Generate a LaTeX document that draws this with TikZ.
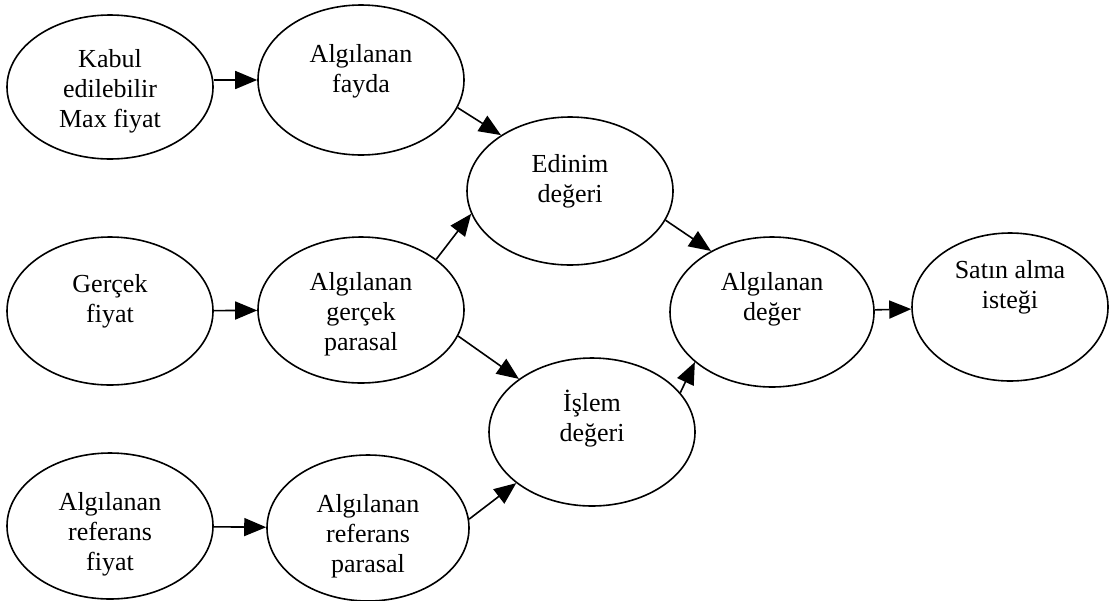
\documentclass[tikz,border=0pt]{standalone}
\usepackage{fontspec}
\setmainfont{Liberation Serif}
\usetikzlibrary{shapes.geometric,arrows.meta,positioning}
\tikzset{
  oval/.style={draw,ellipse,line width=0.8pt,minimum width=103pt,minimum height=74pt,inner sep=0pt},
  txt/.style={align=center,inner sep=0pt,font=\fontsize{13}{15}\selectfont},
  link/.style={draw,line width=0.8pt,-{Triangle[length=11pt,width=9pt]}}
}

\begin{document}
\begin{tikzpicture}[x=0.5pt,y=-0.5pt]
  \useasboundingbox (0,0) rectangle (1111,600);
  % ellipses
  \node[oval,minimum height=72pt] (kabul) at (110,87) {};
  \node[oval,minimum height=75pt] (fayda) at (361,80) {};
  \node[oval] (edinim) at (570,191) {};
  \node[oval] (gercek) at (110,311) {};
  \node[oval,minimum height=73pt] (gparasal) at (361,310) {};
  \node[oval,minimum width=102pt,minimum height=75pt] (deger) at (772,312) {};
  \node[oval,minimum width=98pt] (satin) at (1010,307) {};
  \node[oval] (islem) at (592,432) {};
  \node[oval,minimum height=73pt] (rfiyat) at (110,526) {};
  \node[oval,minimum width=101pt,minimum height=73pt] (rparasal) at (368,528) {};
  % texts
  \node[txt,below=17.5pt of kabul.north] (kabul-t) {Kabul\\edilebilir\\Max fiyat};
  \node[txt,below=20pt of fayda.north] (fayda-t) {Algılanan\\fayda};
  \node[txt,below=19pt of edinim.north] (edinim-t) {Edinim\\değeri};
  \node[txt,below=19pt of gercek.north] (gercek-t) {Gerçek\\fiyat};
  \node[txt,below=18pt of gparasal.north] (gparasal-t) {Algılanan\\gerçek\\parasal};
  \node[txt,below=18pt of deger.north] (deger-t) {Algılanan\\değer};
  \node[txt,below=14pt of satin.north] (satin-t) {Satın alma\\isteği};
  \node[txt,below=16pt of islem.north] (islem-t) {İşlem\\değeri};
  \node[txt,below=20pt of rfiyat.north] (rfiyat-t) {Algılanan\\referans\\fiyat};
  \node[txt,below=20pt of rparasal.north] (rparasal-t) {Algılanan\\referans\\parasal};
  % arrows
  \draw[link] (kabul.east |- fayda) -- (fayda);
  \draw[link] (fayda.344) -- (edinim.141);
  \draw[link] (gercek) -- (gparasal);
  \draw[link] (gparasal.34) -- (edinim.193);
  \draw[link] (gparasal.345) -- (islem.144);
  \draw[link] (edinim.343) -- (deger.135);
  \draw[link] (islem.24) -- (deger.213);
  \draw[link] (deger) -- (satin);
  \draw[link] (rfiyat) -- (rparasal);
  \draw[link] (rparasal.5) -- (islem.214);
\end{tikzpicture}
\end{document}
